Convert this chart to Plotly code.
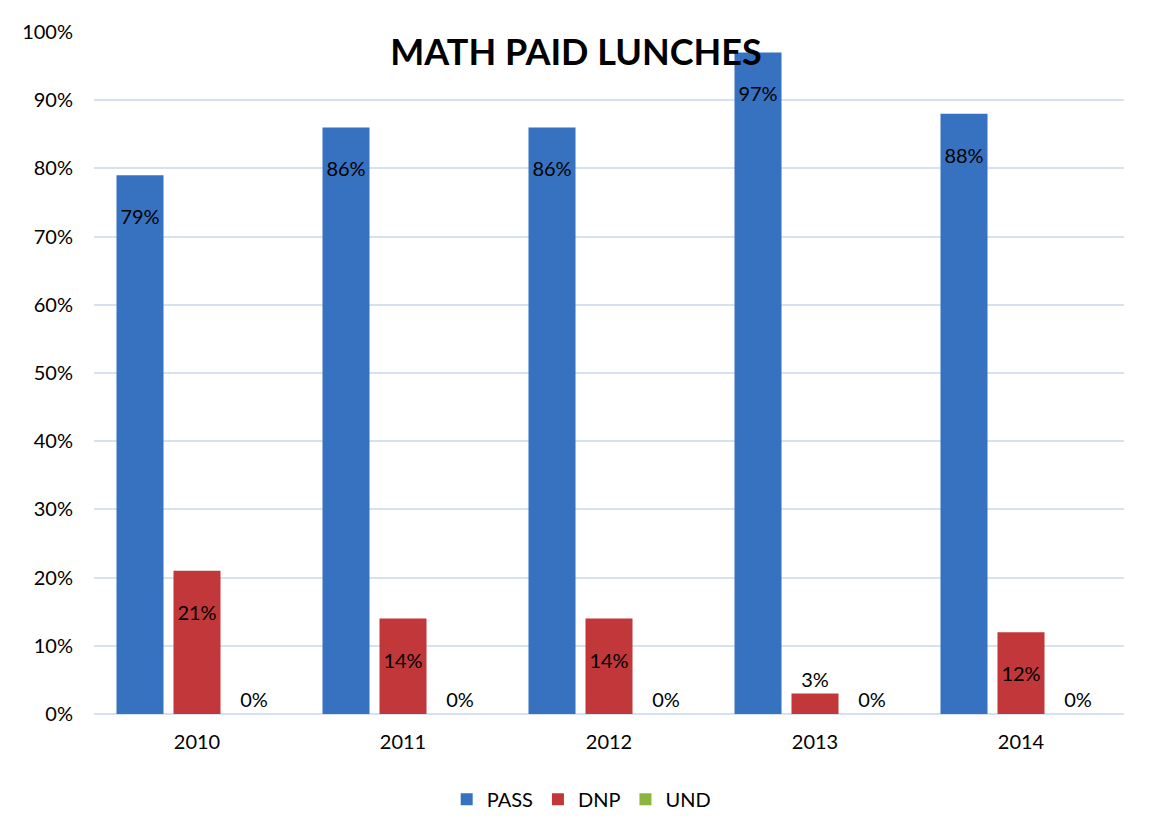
import plotly.graph_objects as go

years = ["2010", "2011", "2012", "2013", "2014"]
pass_vals = [79, 86, 86, 97, 88]
dnp_vals = [21, 14, 14, 3, 12]
und_vals = [0, 0, 0, 0, 0]

FONT = "Lato, 'Open Sans', sans-serif"
LBL = dict(color="black", size=20, family=FONT)

def positions(vals, thresh=5):
    return ["inside" if v >= thresh else "outside" for v in vals]

def labels(vals, thresh=5):
    # inside labels sit a little below the bar top, as in the source chart
    return [(" <br>%d%%" % v) if v >= thresh else ("%d%%" % v) for v in vals]

fig = go.Figure()
series = [("PASS", pass_vals, "#3672C0"), ("DNP", dnp_vals, "#C23739"), ("UND", und_vals, "#8BB53F")]
for name, vals, col in series:
    fig.add_trace(go.Bar(
        name=name, x=years, y=vals, text=labels(vals),
        textposition=positions(vals), insidetextanchor="end",
        marker=dict(color=col, line=dict(width=0)),
        textfont=LBL, outsidetextfont=LBL, insidetextfont=LBL,
        cliponaxis=False,
    ))

# page has an 8px body margin; compensate so the plot lands where the reference has it
fig.update_layout(
    width=1152, height=837,
    margin=dict(l=86, r=36, t=24, b=131),
    paper_bgcolor="white", plot_bgcolor="white",
    font=dict(family=FONT, size=20, color="black"),
    barmode="group", bargap=0.17, bargroupgap=0.175,
    title=dict(text="<b>MATH PAID LUNCHES</b>", x=568 / 1152, xanchor="center",
               y=1 - 44 / 837, yanchor="middle",
               font=dict(size=36, family=FONT, color="black")),
    legend=dict(orientation="h", x=0.473, xanchor="center", y=-0.125, yanchor="middle",
                font=dict(size=20, family=FONT), itemwidth=30, traceorder="normal"),
    xaxis=dict(showgrid=False, showline=False, ticks="", tickfont=dict(size=20),
               ticklabelstandoff=14),
    yaxis=dict(range=[0, 100], dtick=10, ticksuffix="%", showgrid=True,
               gridcolor="#D6E2F0", gridwidth=2, zeroline=True, zerolinecolor="#D6E2F0",
               zerolinewidth=2, showline=False, tickfont=dict(size=20), ticklabelstandoff=20),
    shapes=[dict(type="rect", xref="paper", yref="paper",
                 x0=-0.0893, y0=-0.4, x1=1.2, y1=1.0425,
                 line=dict(color="#D6E2F0", width=2), fillcolor="rgba(0,0,0,0)", layer="below")],
)

fig.write_html("out.html")
